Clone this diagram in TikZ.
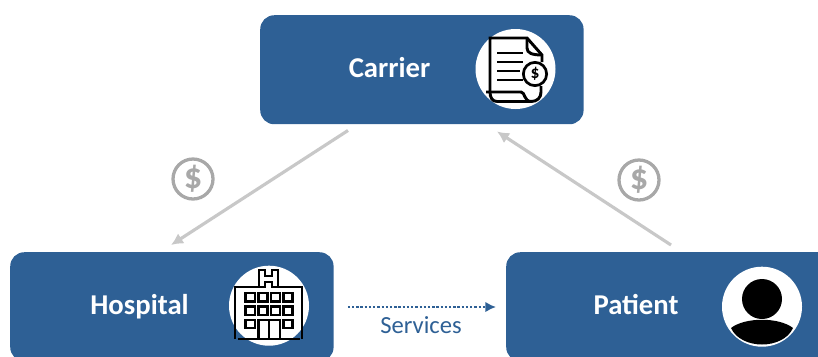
\documentclass[tikz,border=0pt]{standalone}
\usepackage{fontspec}
\setmainfont{Carlito}
\usetikzlibrary{positioning,arrows.meta}
\definecolor{boxblue}{HTML}{2E6095}
\definecolor{linegray}{HTML}{C8C8C8}
\definecolor{coingray}{HTML}{A8A8A8}
\tikzset{
  party/.style={draw=none,fill=boxblue,rounded corners=0.42cm,anchor=north west,minimum width=9.7cm,minimum height=3.27cm},
  partylabel/.style={text=white,font=\fontsize{24.5}{28}\selectfont\bfseries},
  iconback/.style={circle,fill=white,draw=none,minimum size=2.4cm,inner sep=0pt},
  payment/.style={draw=linegray,line width=2.7pt,-{Latex[length=0.36cm,width=0.36cm]}},
  coin/.style={circle,draw=coingray,line width=2.8pt,text=coingray,minimum size=1.2cm,inner sep=0pt,font=\fontsize{31}{31}\selectfont\bfseries},
  iconline/.style={draw=black,line width=2.5pt}
}
\begin{document}
\begin{tikzpicture}[x=0.03cm,y=-0.03cm]
\clip[use as bounding box] (0,0) rectangle (818,356);
% boxes
\node[party] (carrier) at (260,15) {};
\node[party] (hospital) at (10,252) {};
\node[party,minimum width=10cm] (patient) at (506,252) {};
\node[partylabel] (carrierlabel) at (389.5,68) {Carrier};
\node[partylabel] (hospitallabel) at (139.5,307) {Hospital};
\node[partylabel] (patientlabel) at (636,305) {Patient};
% invoice icon
\node[iconback] (carriericon) at (515.5,69) {};
\draw[iconline] (490,92) -- (490,38) -- (527,38) -- (542,55) -- (542,62);
\draw[iconline] (527,38) -- (527,48) .. controls (527,53) and (532,55) .. (542,55);
\draw[iconline] (541,86) -- (541,92) .. controls (541,98) and (537,101.5) .. (531,101.5) -- (497,101.5);
\draw[iconline] (486,92) -- (521,92) .. controls (525,92) and (524,101.5) .. (531,101.5);
\draw[iconline] (497,101.5) .. controls (492,101.5) and (490,97) .. (490,92);
\draw[iconline] (497,53) -- (523,53) (497,62) -- (523,62) (497,71) -- (520,71) (497,80) -- (523,80);
\node[circle,draw=black,fill=white,line width=2.3pt,minimum size=0.7cm,inner sep=0pt,font=\fontsize{15}{15}\selectfont\bfseries] (invoicecoin) at (535,74) {\$};
% hospital icon
\node[iconback] (hospitalicon) at (269,305.7) {};
\draw[iconline] (235,339) -- (235,287) -- (259,287) (278,287) -- (302,287) -- (302,339);
\draw[iconline] (259,287) -- (259,270) -- (265,270) -- (265,276) -- (272,276) -- (272,270) -- (278,270) -- (278,287) -- (272,287) -- (272,282) -- (265,282) -- (265,287) -- cycle;
\draw[iconline] (245.7,293) rectangle (255,301.7) (258.7,293) rectangle (267.7,301.7) (271,293) rectangle (280,301.7) (283.3,293) rectangle (292.3,301.7);
\draw[iconline] (245.7,306.7) rectangle (255,315) (258.7,306.7) rectangle (267.7,315) (271,306.7) rectangle (280,315) (283.3,306.7) rectangle (292.3,315);
\draw[iconline] (245.7,320) rectangle (255,328) (283.3,320) rectangle (292.3,328);
\draw[iconline] (258.5,339) -- (258.5,320) -- (280,320) -- (280,339) (269,320) -- (269,339);
\draw[iconline] (238,339) -- (300,339);
% patient icon
\node[iconback] (patienticon) at (762,306.7) {};
\node[circle,fill=black,minimum size=1.2cm,inner sep=0pt] (patienthead) at (762,299) {};
\fill[black] (731,328) .. controls (745,317) and (779,317) .. (793,328) .. controls (783,350) and (741,350) .. (731,328) -- cycle;
% payments
\coordinate (carrierout) at ([xshift=2.64cm,yshift=-0.18cm]carrier.south west);
\coordinate (hospitalin) at ([xshift=4.83cm,yshift=0.21cm]hospital.north west);
\coordinate (patientout) at ([xshift=4.95cm,yshift=0.21cm]patient.north west);
\coordinate (carrierin) at ([xshift=7.11cm,yshift=-0.21cm]carrier.south west);
\draw[payment] (carrierout) -- (hospitalin);
\draw[payment] (patientout) -- (carrierin);
\node[coin] (coinleft) at (193,179) {\$};
\node[coin] (coinright) at (639,180) {\$};
% services
\coordinate (servicesout) at ([xshift=0.42cm,yshift=-1.65cm]hospital.north east);
\coordinate (servicesin) at ([xshift=-0.3cm,yshift=-1.65cm]patient.north west);
\draw[boxblue,line width=2.5pt,dash pattern=on 2pt off 1.6pt,-{Latex[length=0.32cm,width=0.32cm]}] (servicesout) -- (servicesin);
\node[text=boxblue,font=\fontsize{21}{25}\selectfont] (serviceslabel) at (421,325) {Services};
\end{tikzpicture}
\end{document}
